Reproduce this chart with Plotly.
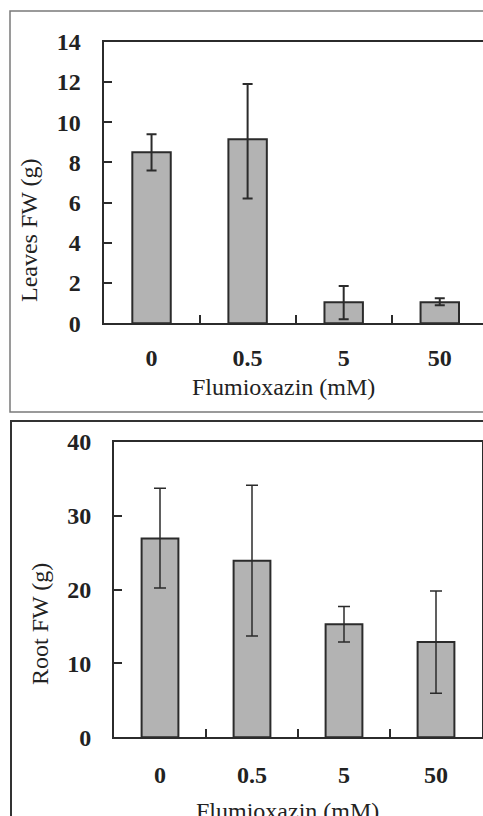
import plotly.graph_objects as go

categories = ["0", "0.5", "5", "50"]
leaves_fw = [8.5, 9.15, 1.05, 1.05]
leaves_err_plus = [0.9, 2.75, 0.8, 0.2]
leaves_err_minus = [0.9, 2.95, 0.85, 0.15]
root_fw = [26.9, 23.9, 15.3, 12.9]
root_err_plus = [6.8, 10.2, 2.4, 6.9]
root_err_minus = [6.7, 10.2, 2.4, 6.95]
leaves_ticks = [0, 2, 4, 6, 8, 10, 12, 14]
root_ticks = [0, 10, 20, 30, 40]

W, H = 483, 816
def px(x):
    return x / W
def py(y):
    return 1 - y / H

FONT = "Liberation Serif"
BAR_FILL = "#b3b3b3"
DARK = "#2b2b2b"

fig = go.Figure()
fig.add_trace(go.Bar(
    x=categories, y=leaves_fw, width=0.4,
    marker=dict(color=BAR_FILL, line=dict(color=DARK, width=2)),
    error_y=dict(type="data", symmetric=False, array=leaves_err_plus,
                 arrayminus=leaves_err_minus, color=DARK, thickness=2, width=5),
    xaxis="x", yaxis="y", showlegend=False))
fig.add_trace(go.Bar(
    x=categories, y=root_fw, width=0.4,
    marker=dict(color=BAR_FILL, line=dict(color=DARK, width=2)),
    error_y=dict(type="data", symmetric=False, array=root_err_plus,
                 arrayminus=root_err_minus, color=DARK, thickness=1.5, width=6),
    xaxis="x2", yaxis="y2", showlegend=False))

tickfont = dict(family=FONT, size=24, color="#222", weight="bold")
common_x = dict(type="category", tickson="boundaries", ticks="inside", ticklen=8,
                tickwidth=2, tickcolor=DARK, showline=True, linecolor=DARK, linewidth=2,
                mirror=True, showgrid=False, tickfont=tickfont, automargin=False,
                zeroline=False)
common_y = dict(ticks="inside", ticklen=8, tickwidth=2, tickcolor=DARK, showline=True,
                linecolor=DARK, linewidth=2, showgrid=False, zeroline=False,
                tickfont=tickfont, ticklabelstandoff=16, automargin=False)

fig.update_layout(
    width=W, height=H, margin=dict(l=0, r=0, t=0, b=0, autoexpand=False),
    paper_bgcolor="white", plot_bgcolor="white",
    xaxis=dict(domain=[px(103.5), 1], range=[-0.5, 3.45], anchor="y",
               ticklabelstandoff=12, **common_x),
    yaxis=dict(domain=[py(323.3), py(41.7)], range=[0, 14], tickvals=leaves_ticks,
               anchor="x", mirror=False, **common_y),
    xaxis2=dict(domain=[px(114), px(482)], range=[-0.5, 3.5], anchor="y2",
                ticklabelstandoff=15, **common_x),
    yaxis2=dict(domain=[py(737.3), py(441.7)], range=[0, 40], tickvals=root_ticks,
                anchor="x2", mirror=True, **common_y),
    bargap=0.6,
)

titlefont = dict(family=FONT, size=24, color="#222")
fig.add_annotation(text="Flumioxazin (mM)", x=px(283), y=py(387), xref="paper", yref="paper",
                   showarrow=False, font=titlefont, xanchor="center", yanchor="middle")
fig.add_annotation(text="Flumioxazin (mM)", x=px(287), y=py(811), xref="paper", yref="paper",
                   showarrow=False, font=titlefont, xanchor="center", yanchor="middle")
fig.add_annotation(text="Leaves FW (g)", x=px(29), y=py(230), xref="paper", yref="paper",
                   showarrow=False, font=titlefont, textangle=-90,
                   xanchor="center", yanchor="middle")
fig.add_annotation(text="Root FW (g)", x=px(40), y=py(624), xref="paper", yref="paper",
                   showarrow=False, font=titlefont, textangle=-90,
                   xanchor="center", yanchor="middle")

# outer panel frames
fig.add_shape(type="rect", xref="paper", yref="paper", x0=px(10), x1=1.1,
              y0=py(412), y1=py(11), line=dict(color="#7a7a7a", width=1.5))
fig.add_shape(type="rect", xref="paper", yref="paper", x0=px(11), x1=1.1,
              y0=-0.1, y1=py(421), line=dict(color="#333", width=2))

fig.write_html("out.html", config={"displayModeBar": False},
               post_script="document.body.style.margin='0';document.body.style.overflow='hidden';")
